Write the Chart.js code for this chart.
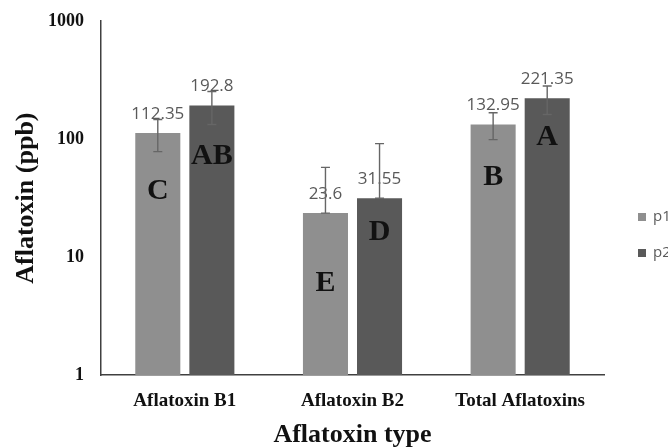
<!DOCTYPE html>
<html>
<head>
<meta charset="utf-8">
<script src="https://cdn.jsdelivr.net/npm/chart.js@4/dist/chart.umd.min.js"></script>
<style>
  body { margin: 0; background: #fff; overflow: hidden; }
  #wrap { width: 668px; height: 448px; }
</style>
</head>
<body>
<div id="wrap"><canvas id="aflaChart" width="668" height="448"></canvas></div>
<script>
var categories = ["Aflatoxin B1", "Aflatoxin B2", "Total Aflatoxins"];
var seriesNames = ["p1", "p2"];
var p1Values = [112.35, 23.6, 132.95];
var p2Values = [192.8, 31.55, 221.35];
var p1Errors = [34, 34, 34];
var p2Errors = [60, 60, 60];
var p1Letters = ["C", "E", "B"];
var p2Letters = ["AB", "D", "A"];
var yTicks = [1, 10, 100, 1000];

var barColors = ["#8f8f8f", "#595959"];
var serif = "'Liberation Serif', 'Times New Roman', serif";

// error bars, value labels, letters and the (cut off) legend
const annotate = {
    id: "annotate",
    afterDatasetsDraw(chart, args, opts) {
        const ctx = chart.ctx;
        const y = chart.scales.y;
        const errs = [p1Errors, p2Errors];
        const letters = [p1Letters, p2Letters];
        ctx.save();
        chart.data.datasets.forEach((ds, di) => {
            const meta = chart.getDatasetMeta(di);
            meta.data.forEach((bar, i) => {
                const v = ds.data[i];
                // value label
                ctx.fillStyle = "#595959";
                ctx.font = "17px 'Open Sans', sans-serif";
                ctx.textAlign = "center";
                ctx.textBaseline = "alphabetic";
                ctx.fillText(String(v), bar.x, bar.y - 14);
                // error bar (minus side stops at the bar when it would go below 0)
                const e = errs[di][i];
                const lo = v - e > 0 ? v - e : v;
                const yHi = y.getPixelForValue(v + e);
                const yLo = y.getPixelForValue(lo);
                ctx.strokeStyle = "#666";
                ctx.lineWidth = 1.4;
                ctx.beginPath();
                ctx.moveTo(bar.x, yHi); ctx.lineTo(bar.x, yLo);
                ctx.moveTo(bar.x - 4.5, yHi); ctx.lineTo(bar.x + 4.5, yHi);
                ctx.moveTo(bar.x - 4.5, yLo); ctx.lineTo(bar.x + 4.5, yLo);
                ctx.stroke();
                // letter
                ctx.fillStyle = "#111";
                ctx.font = "bold 30px " + serif;
                ctx.textBaseline = "middle";
                ctx.fillText(letters[di][i], bar.x, bar.y + opts.letterOffsets[di][i]);
            });
        });
        // legend
        const a = chart.chartArea;
        chart.data.datasets.forEach((ds, di) => {
            const ly = opts.legendTop + di * 36;
            ctx.fillStyle = ds.backgroundColor;
            ctx.fillRect(a.right + 34, ly - 4, 8, 8);
            ctx.fillStyle = "#595959";
            ctx.font = "15px 'Open Sans', sans-serif";
            ctx.textAlign = "left";
            ctx.textBaseline = "middle";
            ctx.fillText(ds.label, a.right + 49, ly);
        });
        ctx.restore();
    }
};

// chart.js counts the tick padding twice when fitting an axis (and adds it to
// the end padding of a vertical one), take the extra back out
function undoDoublePadding(axis) {
    const pad = axis.options.ticks.padding;
    if (axis.isHorizontal()) {
        axis.height -= pad;
    } else {
        axis.width -= pad;
        axis.paddingTop = Math.max(axis.paddingTop - pad, 0);
        axis.paddingBottom = Math.max(axis.paddingBottom - pad, 0);
    }
}

const aflaChart = new Chart(document.getElementById("aflaChart").getContext("2d"), {
    type: "bar",
    data: {
        labels: categories,
        datasets: [{
            label: seriesNames[0],
            data: p1Values,
            backgroundColor: barColors[0],
        }, {
            label: seriesNames[1],
            data: p2Values,
            backgroundColor: barColors[1],
        }]
    },
    options: {
        responsive: false,
        animation: false,
        categoryPercentage: 0.645,
        barPercentage: 0.833,
        layout: { padding: { top: 21, right: 64, bottom: 0, left: 0 } },
        scales: {
            x: {
                afterFit: undoDoublePadding,
                grid: { display: false, drawTicks: false },
                border: { color: "#404040", width: 1.5 },
                ticks: { color: "#111", padding: 14, font: { family: serif, size: 19, weight: "bold" } },
                title: {
                    display: true, text: "Aflatoxin type", color: "#111",
                    font: { family: serif, size: 26, weight: "bold", lineHeight: 1 },
                    padding: { top: 10, bottom: 0 }
                }
            },
            y: {
                type: "logarithmic",
                min: 1,
                max: 1000,
                afterFit: undoDoublePadding,
                afterBuildTicks: (axis) => { axis.ticks = yTicks.map(v => ({ value: v })); },
                grid: { display: false, drawTicks: false },
                border: { color: "#404040", width: 1.5 },
                ticks: {
                    color: "#111", padding: 17,
                    font: { family: serif, size: 18, weight: "bold" },
                    callback: (v) => String(v)
                },
                title: {
                    display: true, text: "Aflatoxin (ppb)", color: "#111",
                    font: { family: serif, size: 26, weight: "bold", lineHeight: 1 },
                    padding: { top: 13, bottom: 9 }
                }
            }
        },
        plugins: {
            legend: { display: false },
            tooltip: { enabled: false },
            annotate: {
                legendTop: 217,
                letterOffsets: [[58, 70, 53], [51, 34, 39]]
            }
        }
    },
    plugins: [annotate]
});
</script>
</body>
</html>
